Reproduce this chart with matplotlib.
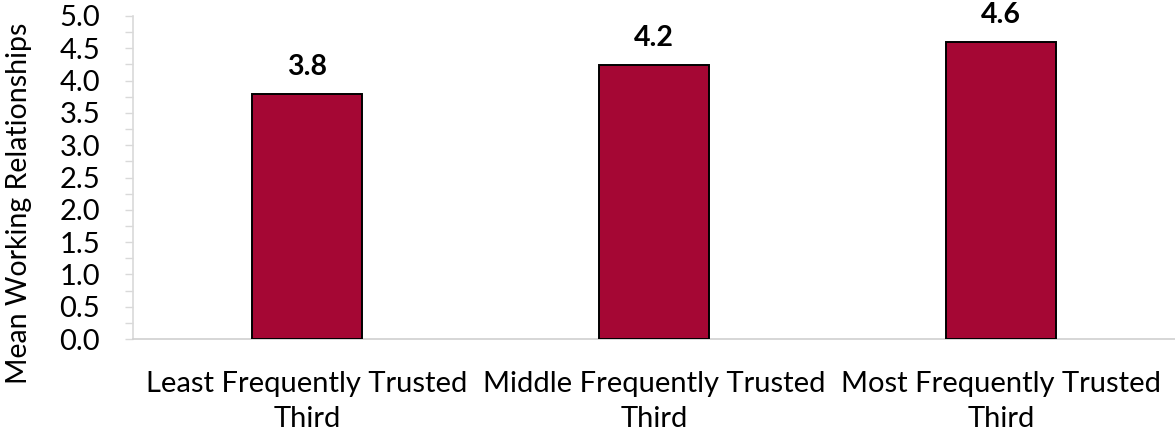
import matplotlib
matplotlib.use("Agg")
import matplotlib.pyplot as plt
from matplotlib.ticker import MultipleLocator

categories = ["Least Frequently Trusted\nThird",
              "Middle Frequently Trusted\nThird",
              "Most Frequently Trusted\nThird"]
means = [3.8, 4.24, 4.6]

plt.rcParams["font.family"] = ["Lato", "DejaVu Sans"]

fig = plt.figure(figsize=(11.75, 4.32), dpi=100)
ax = fig.add_axes([0.1135, 0.215, 0.8865, 0.748])

x = range(len(categories))
bars = ax.bar(x, means, width=0.317, color="#A50734",
              edgecolor="black", linewidth=1.4, zorder=3)

for xi, v in zip(x, means):
    ax.annotate(f"{v:.1f}", (xi, v), xytext=(0, 10), textcoords="offset points",
                ha="center", va="bottom", fontsize=20.5, fontweight="bold")

ax.set_xlim(-0.5, 2.5)
ax.set_ylim(0, 5)
ax.yaxis.set_major_locator(MultipleLocator(0.5))
ax.yaxis.set_minor_locator(MultipleLocator(0.25))
ax.yaxis.set_major_formatter(lambda v, p: f"{v:.1f}")
ax.set_xticks(list(x))
ax.set_xticklabels(categories, fontsize=21, linespacing=1.42)
ax.tick_params(axis="x", length=0, pad=23)
ax.tick_params(axis="y", which="both", length=6, width=1, color="#d9d9d9",
               labelsize=21, pad=18)

for side in ("top", "right"):
    ax.spines[side].set_visible(False)
ax.spines["left"].set_color("#d9d9d9")
ax.spines["bottom"].set_color("#d0d0d0")
ax.spines["left"].set_linewidth(1.2)
ax.spines["bottom"].set_linewidth(1.2)

ax.set_ylabel("Mean Working Relationships", fontsize=20.5)
ax.yaxis.set_label_coords(-0.097, 0.42)

fig.savefig("out.png", dpi=100)
